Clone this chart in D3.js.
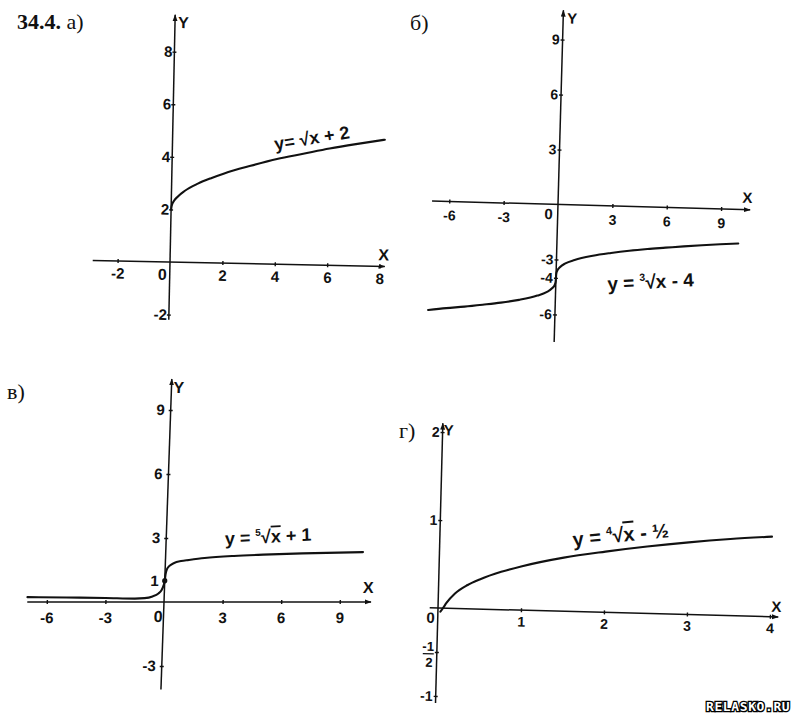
<!DOCTYPE html>
<html><head><meta charset="utf-8">
<script src="https://cdn.jsdelivr.net/npm/d3@7"></script>
<style>
html,body{margin:0;padding:0;background:#fff;}
svg{display:block;}
</style></head><body>
<svg id="c" width="794" height="716"></svg>
<script>
// ---------- data ----------
// а) y = sqrt(x) + 2
const aX = [0, 0.02, 0.1, 0.25, 0.5, 1, 1.5, 2, 3, 4, 5, 6, 7, 8.1];
const aY = [2.0, 2.14, 2.32, 2.5, 2.71, 3.0, 3.22, 3.41, 3.72, 4.0, 4.22, 4.44, 4.63, 4.82];
const aXTicks = [-2, 2, 4, 6, 8];
const aYTicks = [-2, 2, 4, 6, 8];
// б) y = cbrt(x) - 4
const bX = [-7, -6, -5, -4, -3, -2, -1, -0.5, -0.2, -0.05, -0.01, 0, 0.01, 0.05, 0.2, 0.5, 1, 2, 3, 4, 5, 6, 7, 8, 9, 10];
const bY = [-5.95, -5.82, -5.71, -5.58, -5.44, -5.26, -5.0, -4.8, -4.58, -4.37, -4.2, -4.0, -3.8, -3.63, -3.42, -3.2, -3.0, -2.74, -2.56, -2.41, -2.29, -2.19, -2.09, -2.0, -1.92, -1.85];
const bXTicks = [-6, -3, 3, 6, 9];
const bYTicks = [-6, -4, -3, 3, 6, 9];
// в) y = fifth-root(x) + 1
const vX = [-7, -5, -3, -1.5, -1, -0.6, -0.3, -0.15, -0.05, 0, 0.03, 0.1, 0.2, 0.45, 0.8, 1.2, 2, 3.5, 5, 7, 10.1];
const vY = [0.23, 0.21, 0.19, 0.16, 0.18, 0.26, 0.4, 0.55, 0.78, 1.0, 1.3, 1.55, 1.68, 1.83, 1.92, 1.97, 2.06, 2.16, 2.22, 2.28, 2.34];
const vXTicks = [-6, -3, 3, 6, 9];
const vYTicks = [-3, 1, 3, 6, 9];
const vDot = [[0, 1]];
// г) y = fourth-root(x) - 1/2
const gX = [0.03, 0.06, 0.1, 0.2, 0.35, 0.5, 0.75, 1, 1.5, 2, 2.5, 3, 3.5, 4];
const gY = [-0.04, 0.0, 0.06, 0.17, 0.27, 0.34, 0.43, 0.5, 0.61, 0.69, 0.76, 0.82, 0.87, 0.91];
const gXTicks = [1, 2, 3, 4];
const gYTicks = [-1, -0.5, 1, 2];

const titleNum = "34.4.";
const titles = ["а)", "б)", "в)", "г)"];
const eqA = {pre: "y= ", idx: "", rad: "x", post: " + 2"};
const eqB = {pre: "y = ", idx: "3", rad: "x", post: "  - 4"};
const eqV = {pre: "y = ", idx: "5", rad: "x", post: "  + 1"};
const eqG = {pre: "y = ", idx: "4", rad: "x", post: " - ½"};
const watermark = "RELASKO.RU";

// ---------- drawing ----------
const INK = "#111";
const FONT = '"Liberation Sans","DejaVu Sans",sans-serif';
const SERIF = '"Liberation Serif","DejaVu Serif",serif';
const svg = d3.select("#c");
svg.append("rect").attr("width", 794).attr("height", 716).attr("fill", "#fff");

svg.append("defs").append("marker")
  .attr("id", "arr").attr("viewBox", "0 0 10 10").attr("refX", 9).attr("refY", 5)
  .attr("markerWidth", 7).attr("markerHeight", 7).attr("markerUnits", "userSpaceOnUse")
  .attr("orient", "auto")
  .append("path").attr("d", "M0,1.5 L10,5 L0,8.5 Z").attr("fill", INK);

function panel(cfg, xs, ys, xt, yt, eq) {
  const g = svg.append("g").attr("transform", `translate(${cfg.ox},${cfg.oy}) ${cfg.tf}`);
  const x = d3.scaleLinear().domain([0, 1]).range([0, cfg.kx]);
  const y = d3.scaleLinear().domain([0, 1]).range([0, -cfg.ky]);

  g.append("line").attr("x1", x(cfg.xr[0])).attr("x2", x(cfg.xr[1])).attr("y1", 0).attr("y2", 0)
    .attr("stroke", INK).attr("stroke-width", 1.5).attr("marker-end", "url(#arr)");
  g.append("line").attr("x1", 0).attr("x2", 0).attr("y1", y(cfg.yr[0])).attr("y2", y(cfg.yr[1]))
    .attr("stroke", INK).attr("stroke-width", 1.5).attr("marker-end", "url(#arr)");

  const ax = g.append("g").call(d3.axisBottom(x).tickValues(xt).tickSize(2)
    .tickPadding(cfg.xpad).tickFormat(d => String(d)));
  ax.select(".domain").remove();
  ax.attr("font-family", FONT).attr("font-size", cfg.fs).attr("font-weight", "bold");
  ax.selectAll(".tick line").attr("y1", -2).attr("y2", 2).attr("stroke", INK).attr("stroke-width", 1.4);
  ax.selectAll(".tick text").attr("fill", INK);

  const ay = g.append("g").call(d3.axisLeft(y).tickValues(yt).tickSize(2)
    .tickPadding(cfg.ypad).tickFormat(d => d === -0.5 ? "" : String(d)));
  ay.select(".domain").remove();
  ay.attr("font-family", FONT).attr("font-size", cfg.fs).attr("font-weight", "bold");
  ay.selectAll(".tick line").attr("x1", -2).attr("x2", 2).attr("stroke", INK).attr("stroke-width", 1.4);
  ay.selectAll(".tick text").attr("fill", INK);

  const lab = (tx, ty, s, anchor) => g.append("text").attr("x", tx).attr("y", ty)
    .attr("text-anchor", anchor).attr("font-family", FONT).attr("font-size", cfg.fs + 1)
    .attr("font-weight", "bold").attr("fill", INK).text(s);
  lab(cfg.zero[0], cfg.zero[1], "0", "end");
  lab(x(cfg.xr[1]) + cfg.xl[0], cfg.xl[1], "X", "end");
  lab(cfg.yl[0], y(cfg.yr[1]) + cfg.yl[1], "Y", "start");

  const pts = xs.map((v, i) => [v, ys[i]]);
  g.append("path").datum(pts)
    .attr("d", d3.line().x(d => x(d[0])).y(d => y(d[1])).curve(d3.curveMonotoneX))
    .attr("fill", "none").attr("stroke", INK).attr("stroke-width", 2.1)
    .attr("stroke-linecap", "round").attr("stroke-linejoin", "round");

  // equation label
  const px = x(cfg.eqPos[0]), py = y(cfg.eqPos[1]);
  const t = g.append("text").attr("x", px).attr("y", py)
    .attr("transform", `rotate(${cfg.eqRot},${px},${py})`)
    .attr("font-family", FONT).attr("font-size", cfg.eqFs).attr("font-weight", "bold").attr("fill", INK);
  t.append("tspan").text(eq.pre);
  if (eq.idx) {
    t.append("tspan").attr("font-size", cfg.eqFs * 0.55).attr("dy", -cfg.eqFs * 0.42).text(eq.idx);
    t.append("tspan").attr("dy", cfg.eqFs * 0.42).text("√");
  } else {
    t.append("tspan").text("√");
  }
  const r = t.append("tspan").text(eq.rad);
  if (cfg.over) r.style("text-decoration", "overline");
  t.append("tspan").text(eq.post);
  return {g, x, y};
}

const A = panel({ox: 170, oy: 262, kx: 26.2, ky: 26.3, xr: [-2.95, 8.2], yr: [-2.2, 9.4],
  tf: "rotate(1.2)", fs: 15, xpad: 5, ypad: 0, zero: [-3, 18], xl: [4, -6], yl: [3, 13],
  eqPos: [3.93, 4.33], eqRot: -10.5, eqFs: 18, over: false}, aX, aY, aXTicks, aYTicks, eqA);

const B = panel({ox: 558, oy: 204.5, kx: 18.13, ky: 18.33, xr: [-6.95, 10.6], yr: [-7.5, 10.6],
  tf: "rotate(1.6)", fs: 14, xpad: 7, ypad: 1, zero: [-5, 15], xl: [2, -7], yl: [4, 13],
  eqPos: [2.87, -4.62], eqRot: -4.5, eqFs: 19, over: false}, bX, bY, bXTicks, bYTicks, eqB);

const V = panel({ox: 164, oy: 602, kx: 19.53, ky: 21.33, xr: [-7.0, 10.6], yr: [-4.1, 10.45],
  tf: "skewX(-2)", fs: 15, xpad: 8, ypad: 4, zero: [-1, 20], xl: [2, -9], yl: [2, 14],
  eqPos: [3.02, 2.67], eqRot: -3, eqFs: 18, over: true}, vX, vY, vXTicks, vYTicks, eqV);
V.g.selectAll("circle.dot").data(vDot).join("circle").attr("class", "dot")
  .attr("cx", d => V.x(d[0])).attr("cy", d => V.y(d[1])).attr("r", 2.6).attr("fill", INK);

const G = panel({ox: 438, oy: 608, kx: 83, ky: 88, xr: [-0.1, 4.1], yr: [-1.08, 2.1],
  tf: "rotate(1.5)", fs: 14, xpad: 4.5, ypad: 1, zero: [-3, 15], xl: [3, -5], yl: [1, 12],
  eqPos: [1.61, 0.74], eqRot: -7, eqFs: 20, over: true}, gX, gY, gXTicks, gYTicks, eqG);
// fraction label -1/2 on г's Y axis
{
  const yy = G.y(-0.5);
  const fr = G.g.append("g").attr("font-family", FONT).attr("font-size", 13).attr("font-weight", "bold")
    .attr("fill", INK).attr("text-anchor", "end");
  fr.append("text").attr("x", -3).attr("y", yy - 1).text("-1");
  fr.append("line").attr("x1", -14).attr("x2", -3).attr("y1", yy + 2).attr("y2", yy + 2)
    .attr("stroke", INK).attr("stroke-width", 1.3);
  fr.append("text").attr("x", -4).attr("y", yy + 15).text("2");
}

// titles
const tt = svg.append("text").attr("x", 17).attr("y", 29).attr("font-family", SERIF)
  .attr("font-size", 22).attr("fill", INK);
tt.append("tspan").attr("font-weight", "bold").text(titleNum);
tt.append("tspan").text(" " + titles[0]);
const titlePos = [[410, 30], [7, 399], [399, 438]];
titles.slice(1).forEach((s, i) => {
  svg.append("text").attr("x", titlePos[i][0]).attr("y", titlePos[i][1])
    .attr("font-family", SERIF).attr("font-size", 22).attr("fill", INK).text(s);
});

// watermark
svg.append("text").attr("x", 706).attr("y", 711)
  .attr("font-family", '"DejaVu Sans Mono",monospace').attr("font-weight", "bold")
  .attr("font-size", 13).attr("letter-spacing", 0.6)
  .attr("fill", "#fff").attr("stroke", "#000").attr("stroke-width", 2.6)
  .attr("paint-order", "stroke").text(watermark);
</script>
</body></html>
